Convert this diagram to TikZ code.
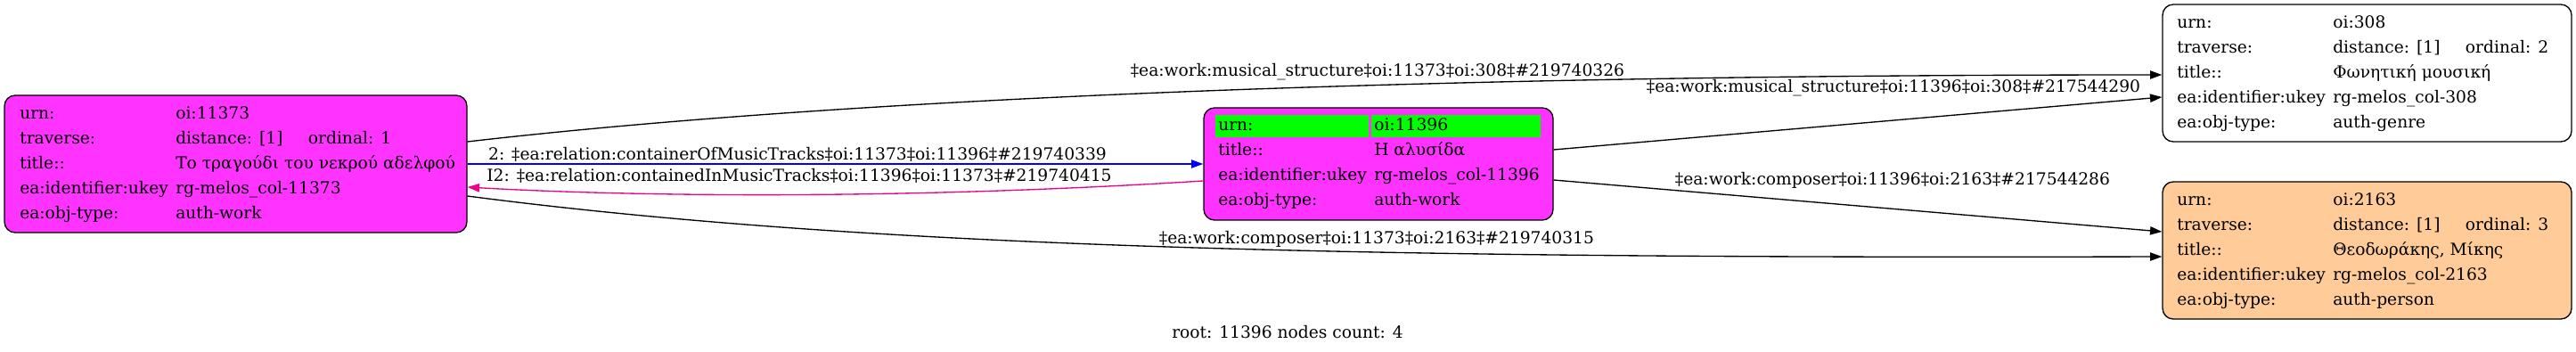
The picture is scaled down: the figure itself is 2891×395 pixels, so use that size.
\documentclass[tikz,border=0pt]{standalone}
\usepackage{fontspec}
\setmainfont{DejaVu Serif}
\usetikzlibrary{arrows.meta,calc}
\definecolor{nodemag}{RGB}{255,51,255}
\definecolor{peach}{RGB}{255,204,153}
\definecolor{hlgreen}{RGB}{0,255,0}
\newcommand{\kv}[2]{\makebox[131.25pt][l]{#1}#2}
\newcommand{\trav}[1]{\makebox[111.5pt][l]{distance: [1]}ordinal: #1}
\tikzset{
 box/.style={draw=black, line width=1pt, rounded corners=9pt, inner sep=0pt},
 rows/.style={anchor=west, inner sep=0pt, font=\fontsize{14}{21}\selectfont},
 elabel/.style={inner sep=0pt, font=\fontsize{14}{17}\selectfont},
 edge/.style={line width=1pt, -{Triangle[length=10pt,width=7pt]}},
}
\begin{document}
\begin{tikzpicture}[x=0.75pt,y=-0.75pt]
\useasboundingbox (0,0) rectangle (2891,395);
% boxes
\node[box, fill=nodemag, minimum width=389.25pt, minimum height=115.5pt] (A) at (264.5,184) {};
\node[box, fill=nodemag, minimum width=294pt, minimum height=94.5pt] (C) at (1547,184) {};
\node[box, fill=white, minimum width=344.25pt, minimum height=115.5pt] (G) at (2656.5,82) {};
\node[box, fill=peach, minimum width=344.25pt, minimum height=115.5pt] (P) at (2656.5,281) {};
% highlight
\fill[hlgreen] (1364,129) rectangle (1536,154);
\fill[hlgreen] (1539,129) rectangle (1729,154);
% texts
\node[rows] (At) at (22,184) {\begin{tabular}{@{}l@{}}
\kv{urn:}{oi:11373}\\
\kv{traverse:}{\trav{1}}\\
\kv{title::}{Το τραγούδι του νεκρού αδελφού}\\
\kv{ea:identifier:ukey}{rg-melos\_col-11373}\\
\kv{ea:obj-type:}{auth-work}
\end{tabular}};
\node[rows] (Ct) at (1367,183) {\begin{tabular}{@{}l@{}}
\kv{urn:}{oi:11396}\\
\kv{title::}{Η αλυσίδα}\\
\kv{ea:identifier:ukey}{rg-melos\_col-11396}\\
\kv{ea:obj-type:}{auth-work}
\end{tabular}};
\node[rows] (Gt) at (2443,82) {\begin{tabular}{@{}l@{}}
\kv{urn:}{oi:308}\\
\kv{traverse:}{\trav{2}}\\
\kv{title::}{Φωνητική μουσική}\\
\kv{ea:identifier:ukey}{rg-melos\_col-308}\\
\kv{ea:obj-type:}{auth-genre}
\end{tabular}};
\node[rows] (Pt) at (2443,281) {\begin{tabular}{@{}l@{}}
\kv{urn:}{oi:2163}\\
\kv{traverse:}{\trav{3}}\\
\kv{title::}{Θεοδωράκης, Μίκης}\\
\kv{ea:identifier:ukey}{rg-melos\_col-2163}\\
\kv{ea:obj-type:}{auth-person}
\end{tabular}};
% edges
\draw[edge] (A.east |- 0,159) .. controls (950,110) and (1600,84) .. (G.west |- 0,84);
\draw[edge, blue] (A.east |- 0,184) -- (C.west |- 0,184);
\draw[edge, magenta] (C.west |- 0,203) .. controls (1000,225) and (700,220) .. (A.east |- 0,210);
\draw[edge] (C.east |- 0,168) -- (G.west |- 0,109);
\draw[edge] (C.east |- 0,202) -- (P.west |- 0,260);
\draw[edge] (A.east |- 0,220) .. controls (1000,282) and (1600,290) .. (P.west |- 0,288);
% labels
\node[elabel] (l1) at (1546,81) {‡ea:work:musical\_structure‡oi:11373‡oi:308‡\#219740326};
\node[elabel] (l2) at (895,173) {2: ‡ea:relation:containerOfMusicTracks‡oi:11373‡oi:11396‡\#219740339};
\node[elabel] (l3) at (897,197) {I2: ‡ea:relation:containedInMusicTracks‡oi:11396‡oi:11373‡\#219740415};
\node[elabel] (l4) at (2125,99) {‡ea:work:musical\_structure‡oi:11396‡oi:308‡\#217544290};
\node[elabel] (l5) at (2124,202) {‡ea:work:composer‡oi:11396‡oi:2163‡\#217544286};
\node[elabel] (l6) at (1545,268) {‡ea:work:composer‡oi:11373‡oi:2163‡\#219740315};
\node[elabel] (foot) at (1445,373) {root: 11396 nodes count: 4};
\end{tikzpicture}
\end{document}
